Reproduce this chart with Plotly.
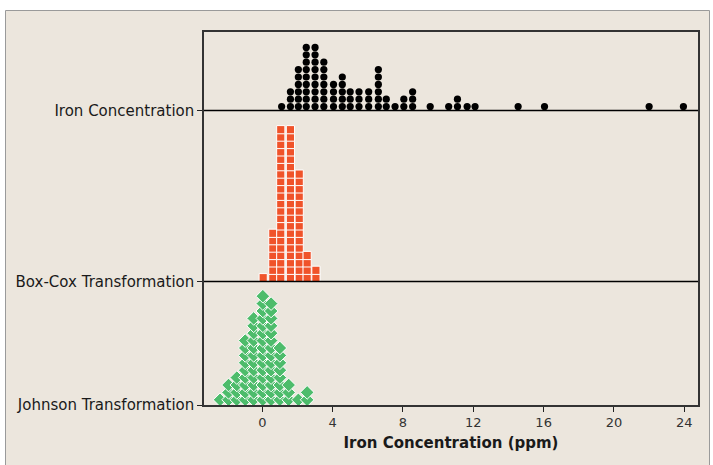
import plotly.graph_objects as go

# ---- data (bin centres and dot counts) ----
iron_bins = [1.1, 1.6, 2.05, 2.5, 3.0, 3.5, 4.05, 4.55, 5.0, 5.5, 6.05, 6.6, 7.05, 7.55,
             8.05, 8.55, 9.55, 10.6, 11.1, 11.65, 12.1, 14.55, 16.05, 22.0, 23.95]
iron_counts = [1, 3, 6, 9, 9, 7, 4, 5, 3, 3, 3, 6, 2, 1, 2, 3, 1, 1, 2, 1, 1, 1, 1, 1, 1]

boxcox_bins = [0.05, 0.6, 1.05, 1.6, 2.1, 2.55, 3.05]
boxcox_counts = [1, 7, 21, 21, 15, 4, 2]

johnson_bins = [-2.4, -1.92, -1.45, -0.97, -0.49, 0.03, 0.5, 1.0, 1.5, 2.05, 2.55]
johnson_counts = [1, 3, 4, 9, 12, 15, 14, 8, 3, 1, 2]

panel_labels = ["Johnson Transformation", "Box-Cox Transformation", "Iron Concentration"]
x_ticks = [0, 4, 8, 12, 16, 20, 24]
x_title = "Iron Concentration (ppm)"

# ---- layout constants ----
W, H = 713, 465
ML, MR, MT, MB = 204, 15, 32, 60
plot_h = H - MT - MB
baselines = [0, 123.5, 294.5]   # y of each panel baseline (y units = px)
pitch = 7.4
offsets = [5.2, 3.8, 3.9]

def stack(bins, counts, base, off):
    xs, ys = [], []
    for b, c in zip(bins, counts):
        for k in range(c):
            xs.append(b)
            ys.append(base + off + k * pitch)
    return xs, ys

fig = go.Figure()

jx, jy = stack(johnson_bins, johnson_counts, baselines[0], offsets[0])
bx, by = stack(boxcox_bins, boxcox_counts, baselines[1], offsets[1])
ix, iy = stack(iron_bins, iron_counts, baselines[2], offsets[2])

fig.add_trace(go.Scatter(x=ix, y=iy, mode="markers", hoverinfo="x",
                         marker=dict(symbol="circle", size=7.2, color="#000000",
                                     line=dict(width=0))))
fig.add_trace(go.Scatter(x=bx, y=by, mode="markers", hoverinfo="x",
                         marker=dict(symbol="square", size=8.2, color="#F0532A",
                                     line=dict(width=1, color="white"))))
fig.add_trace(go.Scatter(x=jx, y=jy, mode="markers", hoverinfo="x",
                         marker=dict(symbol="diamond", size=10.5, color="#4DBC6B",
                                     line=dict(width=1, color="white"))))

# panel divider lines at baselines
for b in baselines[1:]:
    fig.add_shape(type="line", xref="paper", yref="y", x0=0, x1=1, y0=b, y1=b,
                  line=dict(color="#000000", width=1.3), layer="above")

# beige outer panel with grey border
pw = W - ML - MR
fig.add_shape(type="rect", xref="paper", yref="paper",
              x0=(5.5 - ML) / pw, x1=(709.5 - ML) / pw,
              y0=(H - MB - 470) / plot_h, y1=(H - MB - 10.5) / plot_h,
              fillcolor="#ECE6DD", line=dict(color="#9A9A9A", width=1), layer="below")

x_min = (ML - 262.3) / 17.583
x_max = (W - MR - 262.3) / 17.583

font_family = "DejaVu Sans, Verdana, Tahoma, sans-serif"

fig.update_layout(
    width=W, height=H,
    margin=dict(l=ML, r=MR, t=MT, b=MB),
    paper_bgcolor="white",
    plot_bgcolor="white",
    showlegend=False,
    font=dict(family=font_family, size=12, color="#222222"),
    xaxis=dict(range=[x_min, x_max], tickvals=x_ticks, ticktext=[str(t) for t in x_ticks],
               ticks="outside", ticklen=5, tickcolor="#222", showgrid=False, zeroline=False,
               showline=True, linecolor="#333333", linewidth=1.5, mirror=True,
               tickfont=dict(size=13, color="#333333"),
               title=dict(text="<b>" + x_title + "</b>", font=dict(size=15, color="#1a1a1a"),
                          standoff=8)),
    yaxis=dict(range=[0, plot_h], tickvals=baselines, ticktext=panel_labels,
               ticks="outside", ticklen=5, tickcolor="#222", showgrid=False, zeroline=False,
               showline=True, linecolor="#333333", linewidth=1.5, mirror=True,
               tickfont=dict(size=15, color="#1a1a1a"), fixedrange=True),
)

fig.write_html("out.html", config={"displayModeBar": False},
               post_script="document.body.style.margin='0';")
